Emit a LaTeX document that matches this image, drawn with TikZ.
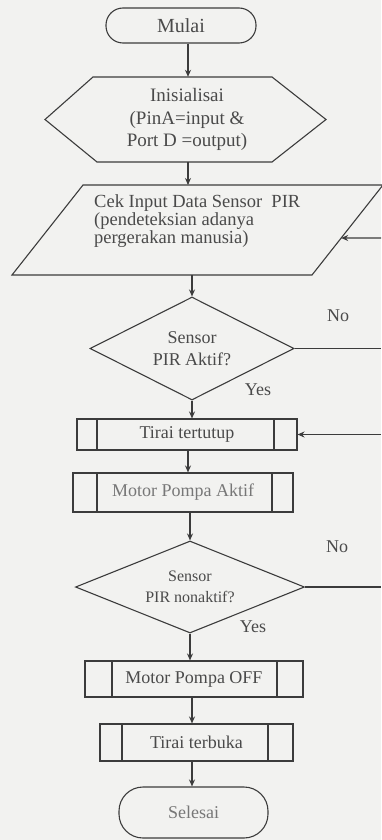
\documentclass[tikz,border=0pt]{standalone}
\usepackage{fontspec}
\setmainfont{Liberation Serif}
\usetikzlibrary{shapes.geometric,arrows.meta,calc}
\definecolor{bgc}{HTML}{F2F2F0}
\definecolor{lnc}{HTML}{3C3C3C}
\definecolor{txc}{HTML}{4A4A4A}
\definecolor{txl}{HTML}{777777}
\begin{document}
\begin{tikzpicture}[x=1pt,y=-1pt,
  ln/.style={draw=lnc, line width=1.1pt},
  shp/.style={ln},
  arr/.style={ln, -{Stealth[length=7pt,width=6pt]}},
  txt/.style={text=txc, font=\fontsize{18}{22}\selectfont, inner sep=0pt},
  term/.style={shp, txt, rectangle, rounded corners=#1},
  proc/.style 2 args={shp, txt, rectangle,
    path picture={
      \draw[ln] ([xshift=#1]path picture bounding box.north west) -- ([xshift=#1]path picture bounding box.south west);
      \draw[ln] ([xshift=-#2]path picture bounding box.north east) -- ([xshift=-#2]path picture bounding box.south east);}},
  dec/.style={shp, txt, diamond, aspect=2.5, align=center},
]
\fill[bgc] (0,0) rectangle (381,840);
\useasboundingbox (0,0) rectangle (381,840);

\coordinate (edge) at (381,0);
\coordinate (ca) at (188,0);
\coordinate (cb) at (192,0);

% Start
\node[term=17pt, minimum width=150, minimum height=35, font=\fontsize{20}{22}\selectfont] (mulai) at (181,25.5) {Mulai};

% Initialisation (hexagon)
\draw[shp] (45,119.5) -- (93,77) -- (272,77) -- (326,119.5) -- (272,162) -- (97,162) -- cycle;
\node[txt, align=center, minimum height=85, font=\fontsize{19}{22.5}\selectfont] (init) at (187,119.5) {Inisialisai\\(PinA=input \&\\Port D =output)};

% Input (parallelogram)
\draw[shp] (83,185) coordinate (cekTL) -- (383,185) coordinate (cekTR) -- (312,275) coordinate (cekBR) -- (12,275) coordinate (cekBL) -- cycle;
\node[txt, anchor=north west, align=left, font=\fontsize{18.5}{18}\selectfont] (cek) at (94,194) {Cek Input Data Sensor~~PIR\\(pendeteksian adanya\\pergerakan manusia)};

% Decision 1
\node[dec, minimum width=204, minimum height=103] (d1) at (192,348.5) {Sensor\\PIR Aktif?};

% Processes
\node[proc={20}{23}, minimum width=220, minimum height=31] (tirai) at (187,434.5) {Tirai tertutup};
\node[proc={24}{21}, minimum width=220, minimum height=39, text=txl] (motor) at (183,492.5) {Motor Pompa Aktif};

% Decision 2
\node[dec, minimum width=229, minimum height=92, font=\fontsize{16}{21}\selectfont] (d2) at (190,587) {Sensor\\PIR nonaktif?};

\node[proc={27}{26}, minimum width=218, minimum height=36] (off) at (194,679) {Motor Pompa OFF};
\node[proc={22}{25}, minimum width=193, minimum height=37] (buka) at (196.5,742.5) {Tirai terbuka};

% End
\node[term=24pt, minimum width=149, minimum height=51, text=txl] (selesai) at (193.5,812.5) {Selesai};

% Labels
\node[txt] (no1) at (338,316) {No};
\node[txt] (yes1) at (258,390) {Yes};
\node[txt] (no2) at (337,547) {No};
\node[txt] (yes2) at (253,627) {Yes};

% Main flow
\draw[arr] (mulai.south -| ca) -- (init.north -| ca);
\draw[arr] (init.south -| ca) -- (cekTL -| ca);
\draw[arr] (cekBL -| d1.north) -- (d1.north);
\draw[arr] (d1.south) -- (d1.south |- tirai.north);
\draw[arr] (tirai.south -| ca) -- (motor.north -| ca);
\draw[arr] (motor.south -| d2.north) -- (d2.north);
\draw[arr] (d2.south) -- (d2.south |- off.north);
\draw[arr] (off.south -| cb) -- (buka.north -| cb);
\draw[arr] (buka.south -| cb) -- (selesai.north -| cb);

% Right-side connectors
\coordinate (r1) at (381,238);
\coordinate (cekin) at ($(cekBR)!0.411!(cekTR)$);
\draw[arr] (r1) -- (cekin);
\draw[ln] (d1.east) -- (d1.east -| edge);
\draw[arr] (tirai.east -| edge) -- (tirai.east);
\draw[ln] (d2.east) -- (d2.east -| edge);
\end{tikzpicture}
\end{document}
